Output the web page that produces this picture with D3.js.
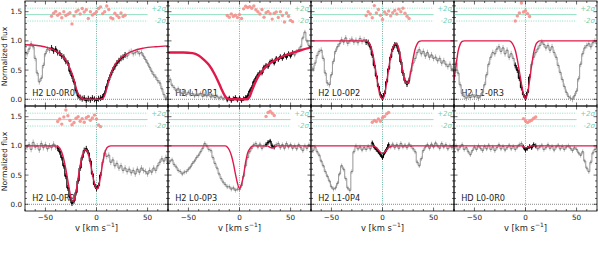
<!DOCTYPE html>
<html><head><meta charset="utf-8">
<script src="https://cdn.jsdelivr.net/npm/d3@7/dist/d3.min.js"></script>
<style>body{margin:0;background:#fff;} svg{display:block;font-family:"DejaVu Sans",sans-serif;}</style>
</head><body>
<svg id="c" width="598" height="255"></svg>
<script>
// ---------------- DATA ----------------
const panelLabels = ["H2 L0-0R0","H2 L1-0R1","H2 L0-0P2","H2 L1-0R3","H2 L0-0R2","H2 L0-0P3","H2 L1-0P4","HD L0-0R0"];
const velocity = [-70,-68,-66,-64,-62,-60,-58,-56,-54,-52,-50,-48,-46,-44,-42,-40,-38,-36,-34,-32,-30,-28,-26,-24,-22,-20,-18,-16,-14,-12,-10,-8,-6,-4,-2,0,2,4,6,8,10,12,14,16,18,20,22,24,26,28,30,32,34,36,38,40,42,44,46,48,50,52,54,56,58,60,62,64,66,68,70];
const xTicks = [-50,0,50];
const yTicks = [0.0,0.5,1.0,1.5];
const fluxErr = [0.05,0.04,0.05,0.05,0.05,0.04,0.04,0.04];
const fitRanges = [[-44,28],[-12,52],[-16,26],[-10,4],[-38,4],[26,34],[-10,6],[-2,10]];

const flux_L00R0 = [0.80,0.78,0.86,0.95,0.90,0.70,0.45,0.30,0.36,0.58,0.78,0.86,0.84,0.88,0.83,0.86,0.80,0.79,0.74,0.72,0.65,0.62,0.48,0.40,0.30,0.15,0.06,0.03,0.01,0.02,-0.02,0.01,-0.01,0.02,0.00,-0.02,0.01,0.02,0.04,0.10,0.22,0.33,0.42,0.50,0.56,0.62,0.66,0.70,0.72,0.76,0.74,0.80,0.82,0.78,0.80,0.82,0.78,0.80,0.74,0.68,0.62,0.55,0.48,0.42,0.38,0.32,0.28,0.18,0.08,0.02,0.05];
const flux_L10R1 = [0.30,0.34,0.24,0.20,0.15,0.18,0.12,0.10,0.14,0.08,0.12,0.09,0.10,0.06,0.09,0.07,0.10,0.05,0.08,0.06,0.09,0.04,0.06,0.03,0.05,0.02,0.04,0.01,0.03,-0.01,0.02,-0.02,0.01,0.03,-0.01,0.02,-0.02,0.01,0.03,0.06,0.14,0.20,0.30,0.36,0.42,0.46,0.45,0.55,0.58,0.56,0.64,0.66,0.62,0.70,0.68,0.73,0.70,0.76,0.72,0.78,0.74,0.80,0.76,0.82,0.85,0.90,1.05,1.15,1.00,0.92,0.88];
const flux_L00P2 = [0.55,0.52,0.62,0.75,0.82,0.84,0.70,0.45,0.28,0.25,0.42,0.65,0.82,0.90,0.95,1.02,0.98,1.05,0.96,1.00,1.03,0.98,1.01,0.97,1.04,0.99,1.02,0.98,0.97,0.90,0.76,0.58,0.40,0.22,0.08,0.02,0.10,0.30,0.52,0.72,0.86,0.93,0.92,0.82,0.64,0.45,0.32,0.26,0.32,0.48,0.62,0.70,0.80,0.85,0.78,0.82,0.74,0.80,0.72,0.76,0.70,0.72,0.66,0.70,0.62,0.66,0.60,0.56,0.60,0.52,0.48];
const flux_L10R3 = [0.55,0.62,0.45,0.25,0.10,0.05,0.02,0.06,0.03,0.08,0.04,0.07,0.02,0.06,0.12,0.25,0.42,0.60,0.72,0.80,0.78,0.86,0.90,0.82,0.88,0.78,0.84,0.72,0.78,0.70,0.58,0.50,0.36,0.20,0.08,0.02,0.12,0.38,0.60,0.72,0.80,0.86,0.92,0.98,0.94,0.88,0.92,0.84,0.90,0.80,0.72,0.58,0.46,0.34,0.22,0.12,0.05,0.02,0.00,0.06,0.14,0.35,0.60,0.78,0.88,0.92,0.95,0.90,0.97,1.00,0.95];
const flux_L00R2 = [0.95,0.98,1.02,0.94,1.06,0.98,1.00,0.93,1.04,0.97,1.02,0.95,1.00,0.97,1.03,0.98,0.96,0.90,0.80,0.66,0.48,0.28,0.12,0.02,0.06,0.20,0.40,0.62,0.80,0.92,0.95,0.88,0.74,0.52,0.34,0.27,0.32,0.50,0.72,0.88,0.82,0.84,0.72,0.76,0.66,0.70,0.62,0.66,0.58,0.62,0.56,0.60,0.54,0.58,0.52,0.60,0.55,0.62,0.58,0.56,0.52,0.58,0.55,0.62,0.58,0.66,0.72,0.78,0.74,0.80,0.72];
const flux_L00P3 = [0.70,0.74,0.76,0.68,0.64,0.58,0.56,0.52,0.55,0.56,0.60,0.64,0.70,0.74,0.80,0.84,0.90,0.96,1.04,1.00,0.94,0.92,0.80,0.70,0.62,0.52,0.44,0.38,0.34,0.30,0.30,0.26,0.28,0.24,0.26,0.25,0.32,0.48,0.66,0.80,0.90,0.96,1.02,1.04,0.98,1.03,0.96,1.00,1.02,1.06,1.08,1.00,0.98,1.02,1.04,0.97,1.02,0.96,1.04,0.98,1.02,0.96,1.00,0.95,1.02,0.97,0.92,1.00,0.96,1.02,0.98];
const flux_L10P4 = [1.00,0.92,0.98,0.90,0.84,0.74,0.66,0.56,0.48,0.40,0.30,0.26,0.28,0.36,0.52,0.66,0.60,0.44,0.28,0.24,0.56,0.90,1.00,0.95,0.98,0.93,0.97,0.94,0.99,0.95,1.05,0.98,0.94,0.90,0.85,0.80,0.88,0.94,1.02,0.98,1.03,0.97,1.02,0.96,1.04,0.98,1.01,0.97,1.03,0.99,0.95,0.90,0.72,0.66,0.78,0.92,0.98,1.02,0.96,1.03,0.98,1.05,1.00,0.96,1.04,0.98,1.02,0.95,1.00,0.97,1.02];
const flux_HDL00R0 = [0.95,1.00,0.93,0.98,1.02,0.94,0.97,0.90,0.85,0.92,0.98,0.94,1.00,0.96,0.92,0.99,0.95,1.01,0.94,0.98,0.92,0.97,1.02,0.95,0.99,0.93,0.97,1.01,0.95,0.99,0.94,0.98,1.02,1.04,0.98,0.93,0.96,0.99,0.97,1.02,1.00,0.95,0.98,1.01,0.94,0.97,1.02,0.96,0.99,0.93,0.98,1.01,0.95,0.99,0.94,0.98,1.00,0.96,0.92,0.97,0.94,0.88,0.84,0.90,0.74,0.62,0.56,0.72,0.88,0.94,0.98];

const model_L00R0 = [[-70,0.935],[-60,0.925],[-50,0.895],[-45,0.87],[-40,0.83],[-35,0.77],[-32,0.72],[-29,0.64],[-26,0.53],[-23.5,0.42],[-21,0.27],[-18.5,0.12],[-16,0.04],[-14,0.01],[-12,0.0],[5,0.0],[7,0.03],[9,0.12],[11,0.25],[13,0.38],[15,0.48],[17,0.56],[20,0.64],[24,0.71],[30,0.78],[36,0.83],[46,0.875],[58,0.9],[70,0.915]];
const model_L10R1 = [[-70,0.80],[-55,0.80],[-46,0.79],[-40,0.75],[-35,0.68],[-30,0.59],[-25,0.45],[-21,0.31],[-18,0.19],[-15,0.08],[-12.5,0.02],[-10,0.0],[8,0.0],[10,0.05],[12,0.14],[15,0.27],[18,0.38],[22,0.48],[26,0.56],[31,0.63],[37,0.69],[44,0.75],[51,0.79],[60,0.84],[70,0.89]];
const model_L00P2 = [[-70,1],[-18,1],[-15,0.99],[-12,0.93],[-10,0.82],[-8,0.64],[-6,0.42],[-4,0.2],[-2,0.05],[0,0.01],[2,0.08],[4,0.28],[6,0.52],[8,0.74],[10,0.88],[12,0.95],[13.5,0.96],[15,0.92],[17,0.78],[19,0.57],[21,0.38],[23,0.28],[24.5,0.27],[26,0.33],[28,0.5],[30,0.7],[32,0.86],[34,0.95],[36,0.99],[38,1],[70,1]];
const model_L10R3 = [[-70,0.33],[-68,0.58],[-66,0.82],[-64,0.94],[-62,0.99],[-60,1],[-16,1],[-14,0.98],[-12,0.93],[-10,0.84],[-8,0.68],[-6,0.48],[-4,0.27],[-2,0.09],[0,0.01],[2,0.1],[4,0.32],[6,0.58],[8,0.8],[10,0.93],[12,0.98],[14,1],[70,1]];
const model_L00R2 = [[-70,1],[-40,1],[-38,0.99],[-36,0.96],[-34,0.89],[-32,0.77],[-30,0.6],[-28,0.4],[-26,0.2],[-24,0.06],[-22.5,0.05],[-21,0.13],[-19,0.33],[-17,0.56],[-15,0.75],[-13,0.88],[-11,0.94],[-9,0.91],[-7,0.8],[-5,0.62],[-3,0.43],[-1,0.3],[0.5,0.26],[2,0.31],[4,0.48],[6,0.7],[8,0.87],[10,0.96],[12,0.99],[14,1],[70,1]];
const model_L00P3 = [[-70,1],[-14,1],[-12,0.98],[-10,0.93],[-8,0.84],[-6,0.7],[-4,0.52],[-2,0.36],[0,0.27],[2,0.35],[4,0.5],[6,0.72],[8,0.88],[10,0.95],[12,0.99],[14,1],[27,1],[30,0.975],[32,0.965],[34,0.975],[37,1],[70,1]];
const model_L10P4 = [[-70,1],[-10,1],[-8,0.99],[-6,0.97],[-4,0.93],[-2,0.89],[0,0.87],[2,0.89],[4,0.93],[6,0.97],[8,0.99],[10,1],[70,1]];
const model_HDL00R0 = [[-70,1],[-4,1],[-2,0.985],[0,0.97],[2,0.975],[4,0.99],[6,1],[70,1]];

// residuals (in sigma units) at velocity samples inside each fit range
const resid_L00R0 = [-0.5,0.4,1.0,-0.2,0.3,-1.0,0.9,-0.3,0.1,0.6,-2.9,-0.4,0.9,1.4,0.2,1.9,0.8,1.5,-1.2,0.9,-0.1,0.3,0.9,1.9,2.4,0.3,0.9,2.7,1.6,-1.0,-1.3,0.4,-0.3,-0.9,0.5,-0.6,-0.2];
const resid_L10R1 = [-0.3,-0.8,0.2,-0.6,-0.2,-0.9,0.0,-1.2,1.8,2.6,2.2,2.5,2.0,2.7,1.5,0.9,0.2,1.6,-0.8,0.6,1.0,0.3,-1.4,0.4,0.8,-0.9,0.9,-0.3,-2.3,0.5,-0.5,-1.8,-2.2];
const resid_L00P2 = [-0.3,0.9,0.2,-1.0,2.8,0.5,1.6,-0.2,-1.5,0.8,0.1,1.1,-0.4,0.6,1.3,0.2,1.7,0.9,2.0,0.4,-0.5,-1.2];
const resid_L10R3 = [-2.0,-0.4,0.5,3.6,0.8,1.2,0.3,-0.6];
const resid_L00R2 = [-0.6,0.2,-1.4,0.8,3.0,1.2,-0.3,-1.6,-0.9,0.4,0.9,-0.5,0.3,-0.8,0.6,1.0,-0.2,0.5,1.4,0.2,-1.7,-2.2];
const resid_L00P3 = [1.0,2.2,2.6,2.0,1.3];
const resid_L10P4 = [-0.8,-0.3,-0.6,0.2,-0.5,0.6,1.0,1.8,2.2];
const resid_HDL00R0 = [0.3,-0.4,-0.9,-0.5,-0.2,0.4,0.8];

const fluxes = [flux_L00R0,flux_L10R1,flux_L00P2,flux_L10R3,flux_L00R2,flux_L00P3,flux_L10P4,flux_HDL00R0];
const models = [model_L00R0,model_L10R1,model_L00P2,model_L10R3,model_L00R2,model_L00P3,model_L10P4,model_HDL00R0];
const resids = [resid_L00R0,resid_L10R1,resid_L00P2,resid_L10R3,resid_L00R2,resid_L00P3,resid_L10P4,resid_HDL00R0];

// ---------------- DRAW ----------------
const svg = d3.select('#c');
const L = 25, T = 1, PW = 143, PH = 105;
const resCenter = 1.45, resSigma = 0.055;
const minus = s => s.replace('-', '\u2212');

panelLabels.forEach((label, i) => {
  const col = i % 4, row = Math.floor(i / 4);
  const x0 = L + col * PW, y0 = T + row * PH;
  const x = d3.scaleLinear().domain([-70, 70]).range([x0, x0 + PW]);
  const y = d3.scaleLinear().domain([-0.115, 1.683]).range([y0 + PH, y0]);
  const g = svg.append('g');
  const cid = 'clip' + i;
  svg.append('clipPath').attr('id', cid).append('rect')
    .attr('x', x0).attr('y', y0).attr('width', PW).attr('height', PH);
  const gc = g.append('g').attr('clip-path', `url(#${cid})`);

  // sigma band lines
  const sigCol = '#86dcbd';
  [[resCenter + 2 * resSigma, '1.2,1.2'], [resCenter, null], [resCenter - 2 * resSigma, '1.2,1.2']].forEach(([v, dash]) => {
    gc.append('line').attr('x1', x(-70)).attr('x2', x(50)).attr('y1', y(v)).attr('y2', y(v))
      .attr('stroke', sigCol).attr('stroke-width', dash ? 0.8 : 0.9)
      .attr('stroke-dasharray', dash);
  });
  [['+2σ', resCenter + 2 * resSigma], ['-2σ', resCenter - 2 * resSigma]].forEach(([t, v]) => {
    gc.append('text').attr('x', x0 + PW - 2).attr('y', y(v)).attr('dy', '0.35em')
      .attr('text-anchor', 'end').attr('font-size', 7).attr('font-style', 'italic')
      .attr('fill', '#6fd0ad').text(t);
  });

  // zero line and v=0 line
  gc.append('line').attr('x1', x0).attr('x2', x0 + PW).attr('y1', y(0)).attr('y2', y(0))
    .attr('stroke', '#555').attr('stroke-width', 0.7).attr('stroke-dasharray', '1,1');
  gc.append('line').attr('x1', x(0)).attr('x2', x(0)).attr('y1', y0).attr('y2', y0 + PH)
    .attr('stroke', '#3f9c86').attr('stroke-width', 0.8).attr('stroke-dasharray', '1,1.3');

  // panel label
  gc.append('text').attr('x', x(-63)).attr('y', y(0.055)).attr('font-size', 8.2)
    .attr('fill', '#222').text(label);

  const flux = fluxes[i], err = fluxErr[i];
  const pts = velocity.map((v, k) => ({ v, f: flux[k] }));
  const [lo, hi] = fitRanges[i];
  const fitPts = pts.filter(d => d.v >= lo && d.v <= hi);

  const line = d3.line().x(d => x(d.v)).y(d => y(d.f)).curve(d3.curveStep);
  // gray full spectrum
  gc.append('g').selectAll('line').data(pts).join('line')
    .attr('x1', d => x(d.v)).attr('x2', d => x(d.v))
    .attr('y1', d => y(d.f - err)).attr('y2', d => y(d.f + err))
    .attr('stroke', '#a0a0a0').attr('stroke-width', 0.75);
  gc.append('path').attr('d', line(pts)).attr('fill', 'none')
    .attr('stroke', '#8a8a8a').attr('stroke-width', 0.9);
  gc.append('g').selectAll('circle').data(pts).join('circle')
    .attr('cx', d => x(d.v)).attr('cy', d => y(d.f)).attr('r', 0.7).attr('fill', '#777');

  // black fitted data
  gc.append('g').selectAll('line').data(fitPts).join('line')
    .attr('x1', d => x(d.v)).attr('x2', d => x(d.v))
    .attr('y1', d => y(d.f - err)).attr('y2', d => y(d.f + err))
    .attr('stroke', '#000').attr('stroke-width', 0.8);
  gc.append('path').attr('d', line(fitPts)).attr('fill', 'none')
    .attr('stroke', '#000').attr('stroke-width', 1);
  gc.append('g').selectAll('circle').data(fitPts).join('circle')
    .attr('cx', d => x(d.v)).attr('cy', d => y(d.f)).attr('r', 0.9).attr('fill', '#000');

  // model
  const mline = d3.line().x(d => x(d[0])).y(d => y(d[1])).curve(d3.curveMonotoneX);
  gc.append('path').attr('d', mline(models[i])).attr('fill', 'none')
    .attr('stroke', '#e0194b').attr('stroke-width', i === 1 ? 2.4 : 1.4);

  // residuals
  const rv = fitPts.map(d => d.v);
  const rdat = resids[i].slice(0, rv.length).map((r, k) => ({ v: rv[k], r }));
  gc.append('g').selectAll('circle').data(rdat).join('circle')
    .attr('cx', d => x(d.v)).attr('cy', d => y(resCenter + d.r * resSigma)).attr('r', 1.7)
    .attr('fill', '#f58f8c').attr('opacity', 0.9);

  // frame
  g.append('rect').attr('x', x0).attr('y', y0).attr('width', PW).attr('height', PH)
    .attr('fill', 'none').attr('stroke', '#000').attr('stroke-width', 0.8);

  // ticks (inward, all sides)
  const xMinor = x.ticks(14).filter(v => !xTicks.includes(v));
  const yMinor = d3.range(0, 1.7, 0.1).map(v => +v.toFixed(1)).filter(v => !yTicks.includes(v));
  const tk = g.append('g').attr('stroke', '#000').attr('stroke-width', 0.6);
  const addX = (vals, len) => vals.forEach(v => {
    tk.append('line').attr('x1', x(v)).attr('x2', x(v)).attr('y1', y0 + PH).attr('y2', y0 + PH - len);
    tk.append('line').attr('x1', x(v)).attr('x2', x(v)).attr('y1', y0).attr('y2', y0 + len);
  });
  const addY = (vals, len) => vals.forEach(v => {
    tk.append('line').attr('y1', y(v)).attr('y2', y(v)).attr('x1', x0).attr('x2', x0 + len);
    tk.append('line').attr('y1', y(v)).attr('y2', y(v)).attr('x1', x0 + PW).attr('x2', x0 + PW - len);
  });
  addX(xTicks, 3.5); addX(xMinor, 2);
  addY(yTicks, 3.5); addY(yMinor, 2);

  if (col === 0) {
    yTicks.forEach(v => {
      g.append('text').attr('x', x0 - 3).attr('y', y(v)).attr('dy', '0.35em')
        .attr('text-anchor', 'end').attr('font-size', 7.2).attr('fill', '#222').text(v.toFixed(1));
    });
    g.append('text').attr('transform', `translate(${x0 - 18},${y0 + PH / 2 + 3}) rotate(-90)`)
      .attr('text-anchor', 'middle').attr('font-size', 7.6).attr('fill', '#222').text('Normalized flux');
  }
  if (row === 1) {
    xTicks.forEach(v => {
      g.append('text').attr('x', x(v)).attr('y', y0 + PH + 8.5).attr('text-anchor', 'middle')
        .attr('font-size', 7.2).attr('fill', '#222').text(minus(String(v)));
    });
    const t = g.append('text').attr('x', x(0)).attr('y', y0 + PH + 19.5).attr('text-anchor', 'middle')
      .attr('font-size', 8.4).attr('fill', '#222');
    t.append('tspan').text('v [km s');
    t.append('tspan').attr('dy', -3.2).attr('font-size', 6).text('\u22121');
    t.append('tspan').attr('dy', 3.2).text(']');
  }
});
</script>
</body></html>
